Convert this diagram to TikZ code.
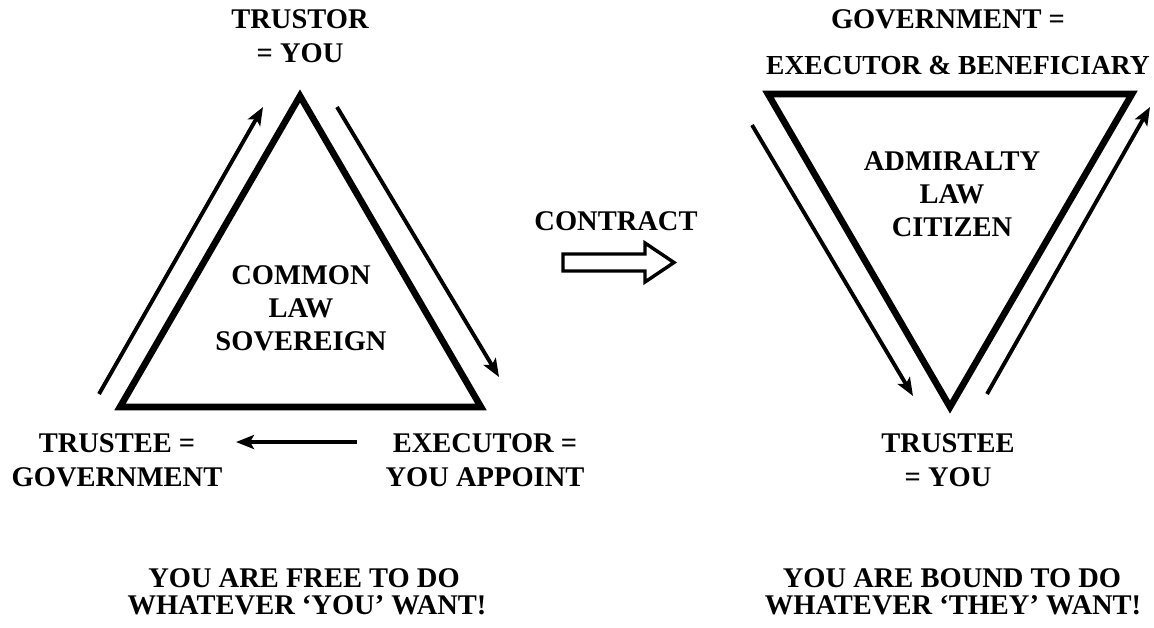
\documentclass[tikz,border=0pt]{standalone}
\usepackage{fontspec}
\setmainfont{Liberation Serif}
\usetikzlibrary{arrows.meta}
\begin{document}
\begin{tikzpicture}[x=1pt,y=-1pt,
  lbl/.style={font=\fontsize{28.5}{34}\selectfont\bfseries, anchor=base, inner sep=0pt},
  tri/.style={line width=6.6pt, line join=miter},
  flow/.style={line width=3.9pt, -{Stealth[length=18pt,width=14pt,inset=4pt]}},
  bigarrow/.style={line width=3.4pt, line join=miter}]
\useasboundingbox[fill=white] (0,0) rectangle (1154,627);

% left triangle
\coordinate (LA) at (300,96);
\coordinate (LB) at (120,407);
\coordinate (LC) at (481,407);
\draw[tri] (LA) -- (LB) -- (LC) -- cycle;
\coordinate (lu1) at (99,394);
\coordinate (lu2) at (263,107);
\coordinate (ld1) at (337,107);
\coordinate (ld2) at (499,377);
\draw[flow] (lu1) -- (lu2);
\draw[flow] (ld1) -- (ld2);
\coordinate (lh1) at (357,442);
\coordinate (lh2) at (236,442);
\draw[flow] (lh1) -- (lh2);

% right triangle
\coordinate (RA) at (768,94);
\coordinate (RB) at (1132,94);
\coordinate (RC) at (950,407);
\draw[tri] (RA) -- (RB) -- (RC) -- cycle;
\coordinate (rd1) at (752,125);
\coordinate (rd2) at (913,396);
\coordinate (ru1) at (987,394);
\coordinate (ru2) at (1150,107);
\draw[flow] (rd1) -- (rd2);
\draw[flow] (ru1) -- (ru2);

% contract arrow
\draw[bigarrow] (563,254) -- (645,254) -- (645,243) -- (674,262.5) -- (645,282) -- (645,271) -- (563,271) -- cycle;

% labels
\node[lbl] (trustor) at (300,28) {TRUSTOR};
\node[lbl] (trustoryou) at (300,62) {= YOU};
\node[lbl] (common) at (301,284) {COMMON};
\node[lbl] (law1) at (301,317) {LAW};
\node[lbl] (sovereign) at (301,350) {SOVEREIGN};
\node[lbl] (trusteeL) at (117,452) {TRUSTEE =};
\node[lbl] (govL) at (117,486) {GOVERNMENT};
\node[lbl] (execL) at (485,452) {EXECUTOR =};
\node[lbl] (appoint) at (485,486) {YOU APPOINT};
\node[lbl] (contract) at (616,230) {CONTRACT};
\node[lbl] (govR) at (948,28) {GOVERNMENT =};
\node[lbl,font=\fontsize{27.5}{34}\selectfont\bfseries] (execR) at (958,74) {EXECUTOR \& BENEFICIARY};
\node[lbl] (admiralty) at (952,170) {ADMIRALTY};
\node[lbl] (law2) at (952,203) {LAW};
\node[lbl] (citizen) at (952,236) {CITIZEN};
\node[lbl] (trusteeR) at (948,452) {TRUSTEE};
\node[lbl] (trusteeyou) at (948,486) {= YOU};
\node[lbl] (free1) at (304,587) {YOU ARE FREE TO DO};
\node[lbl] (free2) at (307,614) {WHATEVER ‘YOU’ WANT!};
\node[lbl] (bound1) at (952,587) {YOU ARE BOUND TO DO};
\node[lbl] (bound2) at (953,614) {WHATEVER ‘THEY’ WANT!};
\end{tikzpicture}
\end{document}
